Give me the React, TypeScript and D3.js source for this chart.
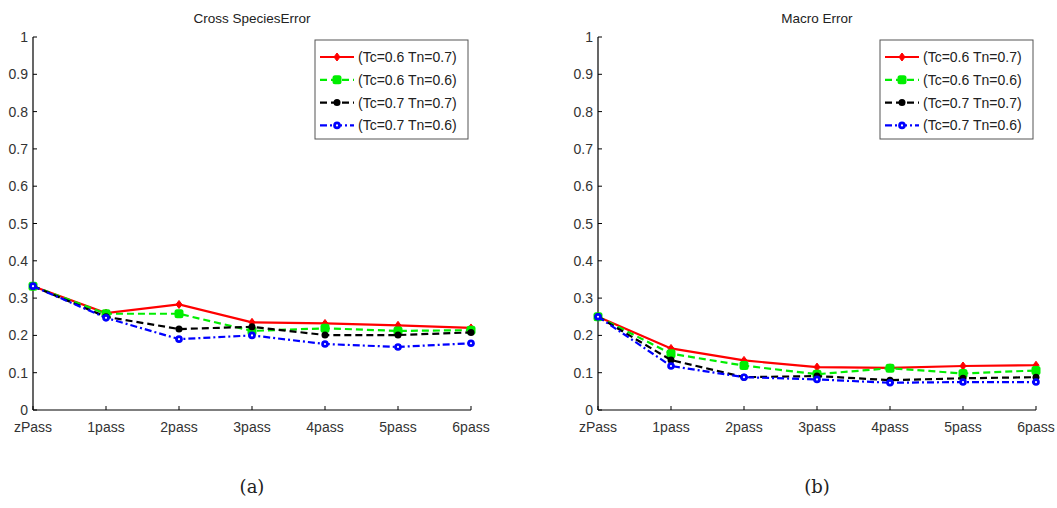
import React from "react";
import * as d3 from "d3";

const categories = ["zPass", "1pass", "2pass", "3pass", "4pass", "5pass", "6pass"];
const yTicks = [0, 0.1, 0.2, 0.3, 0.4, 0.5, 0.6, 0.7, 0.8, 0.9, 1];
const seriesNames = ["(Tc=0.6 Tn=0.7)", "(Tc=0.6 Tn=0.6)", "(Tc=0.7 Tn=0.7)", "(Tc=0.7 Tn=0.6)"];

const crossRed = [0.332, 0.26, 0.283, 0.235, 0.232, 0.227, 0.22];
const crossGreen = [0.332, 0.258, 0.258, 0.212, 0.219, 0.212, 0.214];
const crossBlack = [0.332, 0.25, 0.217, 0.223, 0.201, 0.201, 0.208];
const crossBlue = [0.332, 0.247, 0.19, 0.2, 0.177, 0.169, 0.179];

const macroRed = [0.25, 0.165, 0.133, 0.115, 0.113, 0.118, 0.12];
const macroGreen = [0.25, 0.151, 0.119, 0.096, 0.112, 0.098, 0.106];
const macroBlack = [0.25, 0.134, 0.088, 0.091, 0.08, 0.085, 0.088];
const macroBlue = [0.25, 0.118, 0.088, 0.082, 0.073, 0.075, 0.075];

const styles = [
  { color: "#ff0000", dash: "none", marker: "diamond" },
  { color: "#00ee00", dash: "7,4", marker: "square" },
  { color: "#000000", dash: "7,4", marker: "dot" },
  { color: "#0000ff", dash: "7,3,2,3", marker: "ring" },
];

function Marker({ kind, x, y, color }: { kind: string; x: number; y: number; color: string }) {
  if (kind === "diamond")
    return <path d={`M${x},${y - 4}L${x + 3},${y}L${x},${y + 4}L${x - 3},${y}Z`} fill={color} stroke={color} strokeWidth={1} />;
  if (kind === "square") return <rect x={x - 4.5} y={y - 4.5} width={9} height={9} rx={2.5} fill={color} />;
  if (kind === "dot") return <circle cx={x} cy={y} r={3.5} fill={color} />;
  return (
    <g>
      <circle cx={x} cy={y} r={3.8} fill={color} />
      <circle cx={x} cy={y} r={1.1} fill="#fff" />
    </g>
  );
}

function Panel({ x0, title, data, label }: { x0: number; title: string; data: number[][]; label: string }) {
  const W = 438;
  const top = 37;
  const bottom = 410;
  const x = d3.scalePoint<string>().domain(categories).range([x0, x0 + W]);
  const y = d3.scaleLinear().domain([0, 1]).range([bottom, top]);
  const line = d3
    .line<number>()
    .x((_, i) => x(categories[i]) as number)
    .y((d) => y(d));
  const font = "'Liberation Sans', Arial, sans-serif";
  const lx = x0 + 282;
  const ly = 40;
  return (
    <g>
      <text x={x0 + W / 2} y={23} textAnchor="middle" fontFamily={font} fontSize={13.5} fill="#222">
        {title}
      </text>
      <line x1={x0} x2={x0} y1={top} y2={bottom} stroke="#000" strokeWidth={1.2} />
      <line x1={x0} x2={x0 + W} y1={bottom} y2={bottom} stroke="#000" strokeWidth={1.2} />
      {yTicks.map((t) => (
        <g key={t}>
          <line x1={x0} x2={x0 + 4} y1={y(t)} y2={y(t)} stroke="#000" />
          <text x={x0 - 5} y={y(t) + 5} textAnchor="end" fontFamily={font} fontSize={14} fill="#333">
            {t}
          </text>
        </g>
      ))}
      {categories.map((c) => (
        <g key={c}>
          <line x1={x(c)} x2={x(c)} y1={bottom} y2={bottom - 4} stroke="#000" />
          <text x={x(c)} y={bottom + 22} textAnchor="middle" fontFamily={font} fontSize={14} fill="#333">
            {c}
          </text>
        </g>
      ))}
      {data.map((s, k) => (
        <g key={k}>
          <path d={line(s) as string} fill="none" stroke={styles[k].color} strokeWidth={2.2} strokeDasharray={styles[k].dash} />
          {s.map((v, i) => (
            <Marker key={i} kind={styles[k].marker} x={x(categories[i]) as number} y={y(v)} color={styles[k].color} />
          ))}
        </g>
      ))}
      <rect x={lx} y={ly} width={153} height={99} fill="#fff" stroke="#555" strokeWidth={1} />
      {seriesNames.map((n, k) => {
        const yy = ly + 17 + k * 22.8;
        return (
          <g key={n}>
            <line x1={lx + 5} x2={lx + 39} y1={yy} y2={yy} stroke={styles[k].color} strokeWidth={2.2} strokeDasharray={styles[k].dash} />
            <Marker kind={styles[k].marker} x={lx + 22} y={yy} color={styles[k].color} />
            <text x={lx + 43} y={yy + 5} fontFamily={font} fontSize={14} fill="#222">
              {n}
            </text>
          </g>
        );
      })}
      <text x={x0 + 219} y={493} textAnchor="middle" fontFamily="'DejaVu Serif', 'Liberation Serif', serif" fontSize={18} fill="#222">
        {label}
      </text>
    </g>
  );
}

export default function App() {
  return (
    <svg width={1057} height={508} style={{ position: "absolute", left: 0, top: 0, background: "#fff" }}>
      <rect width={1057} height={508} fill="#fff" />
      <Panel x0={33} title="Cross SpeciesError" data={[crossRed, crossGreen, crossBlack, crossBlue]} label="(a)" />
      <Panel x0={598} title="Macro Error" data={[macroRed, macroGreen, macroBlack, macroBlue]} label="(b)" />
    </svg>
  );
}
